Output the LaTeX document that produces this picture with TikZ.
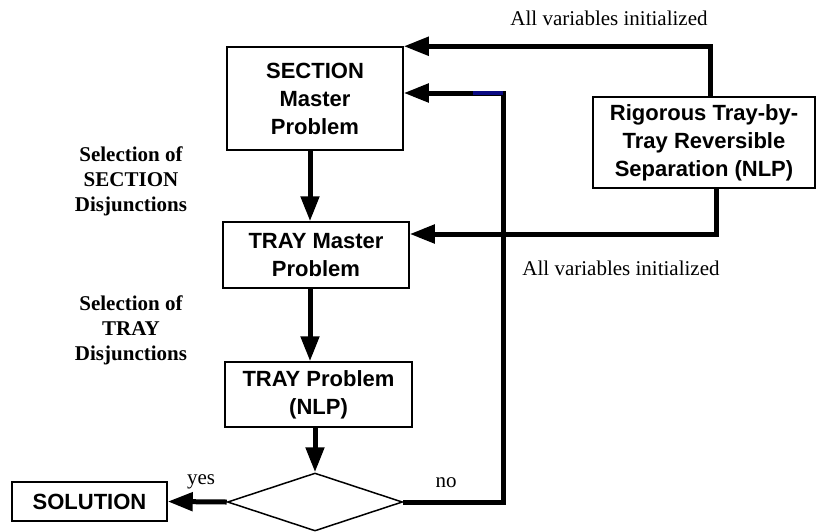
\documentclass[tikz,border=0pt]{standalone}
\usepackage{fontspec}
\setmainfont{Liberation Serif}
\setsansfont{Liberation Sans}
\usetikzlibrary{arrows.meta,shapes.geometric}

\definecolor{navyline}{RGB}{10,10,130}

\begin{document}
\begin{tikzpicture}[x=1pt, y=-1pt,
    box/.style={draw, line width=1.5pt, align=center, inner sep=0pt, font=\sffamily\bfseries\fontsize{22}{28}\selectfont},
    flow/.style={-{Triangle[length=25pt,width=18pt]}, line width=5pt},
    note/.style={align=center, inner sep=0pt, font=\bfseries\fontsize{21}{25}\selectfont},
    remark/.style={inner sep=0pt, font=\fontsize{21}{25}\selectfont}]

    \useasboundingbox (0,0) rectangle (816,531);

    %% Boxes of the loop
    % SECTION master problem
    \node[box, minimum width=176pt, minimum height=103pt] (sec) at (315,98.5) {SECTION\\Master\\Problem};

    % TRAY master problem
    \node[box, minimum width=186pt, minimum height=66pt] (traym) at (316,255) {TRAY Master\\Problem};

    % TRAY problem
    \node[box, minimum width=187pt, minimum height=65pt] (tp) at (318.5,394.5) {TRAY Problem\\(NLP)};

    % Decision
    \node[draw, line width=1.5pt, diamond, inner sep=0pt, minimum width=175pt, minimum height=58pt] (dec) at (315,502) {};

    % Solution
    \node[box, minimum width=155pt, minimum height=39pt] (sol) at (89.5,501.5) {SOLUTION};

    % Rigorous separation
    \node[box, minimum width=222pt, minimum height=91pt] (rig) at (704,142.5) {Rigorous Tray-by-\\Tray Reversible\\Separation (NLP)};

    %% Labels
    \node[note] (selsec) at (131,181) {Selection of\\SECTION\\Disjunctions};
    \node[note] (seltray) at (131,330) {Selection of\\TRAY\\Disjunctions};
    \node[remark] (inittop) at (609,18) {All variables initialized};
    \node[remark] (initbot) at (621,268) {All variables initialized};
    \node[remark] (yes) at (201,482) {yes};
    \node[remark] (no) at (446,483) {no};

    %% Connectors
    % Down the loop
    \draw[flow] ([xshift=-5pt]sec.south) -- ([xshift=-6pt]traym.north);
    \draw[flow] ([xshift=-6pt]traym.south) -- ([xshift=-8.5pt]tp.north);
    \draw[flow] ([xshift=-3.5pt]tp.south) -- (dec.north);

    % yes
    \draw[flow] (dec.west) -- (sol.east);

    % no, back to SECTION master
    \coordinate (turn) at (503,502);
    \coordinate (bend) at (503,93);
    \draw[flow] (dec.east) -- (turn) -- (bend) -- ([yshift=5.5pt]sec.east);
    \draw[line width=4pt, navyline] (bend) -- ++(-30,0);

    % Initialization from the NLP
    \draw[flow] ([xshift=6pt]rig.north) |- (sec.north east);
    \draw[flow] ([xshift=12pt]rig.south) |- ([yshift=21pt]traym.east);

\end{tikzpicture}
\end{document}
